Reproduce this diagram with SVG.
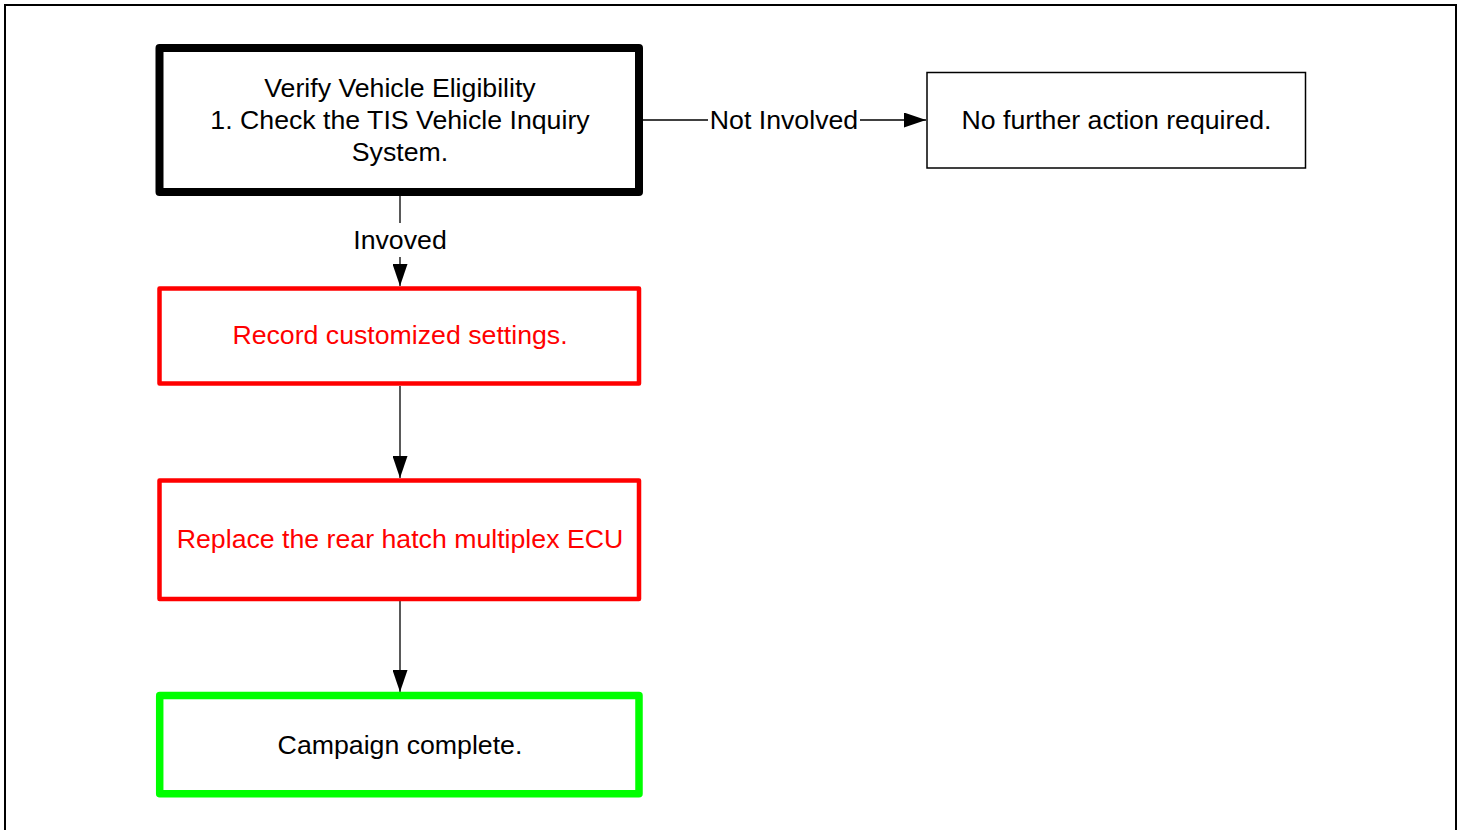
<svg xmlns="http://www.w3.org/2000/svg" width="1463" height="830" viewBox="0 0 1463 830">
<style>
text{font-family:"Liberation Sans",Arial,sans-serif;font-size:26.7px;text-anchor:middle;dominant-baseline:central}
.red{fill:#ff0000}
.blk{fill:#000}
.conn{stroke:#000;stroke-width:1.3;fill:none}
</style>
<defs>
<marker id="ah" viewBox="0 0 22 15" refX="22" refY="7.5" markerWidth="22" markerHeight="15" markerUnits="userSpaceOnUse" orient="auto">
<path d="M0,0 L22,7.5 L0,15 Z" fill="#000"/>
</marker>
</defs>
<rect x="0" y="0" width="1463" height="830" fill="#fff"/>
<rect id="frame" x="5" y="5" width="1451" height="840" fill="none" stroke="#000" stroke-width="2"/>
<g id="connectors">
<path class="conn" d="M642,120 H708"/>
<path class="conn" d="M860,120 H926" marker-end="url(#ah)"/>
<text x="784" y="120" class="blk">Not Involved</text>
<path class="conn" d="M400,196 V223"/>
<path class="conn" d="M400,257 V286" marker-end="url(#ah)"/>
<text x="400" y="240" class="blk">Invoved</text>
<path class="conn" d="M400,386 V478" marker-end="url(#ah)"/>
<path class="conn" d="M400,601 V692" marker-end="url(#ah)"/>
</g>
<g id="verify">
<rect x="159.5" y="48" width="479.5" height="144" fill="#fff" stroke="#000" stroke-width="8" stroke-linejoin="round"/>
<text x="400" y="88" class="blk">Verify Vehicle Eligibility</text>
<text x="400" y="120" class="blk">1. Check the TIS Vehicle Inquiry</text>
<text x="400" y="152" class="blk">System.</text>
</g>
<g id="nofurther">
<rect x="927" y="72.5" width="378.5" height="95.5" fill="#fff" stroke="#000" stroke-width="1.5"/>
<text x="1116.5" y="120" class="blk">No further action required.</text>
</g>
<g id="record">
<rect x="159.5" y="288.5" width="479.5" height="95" fill="#fff" stroke="#ff0000" stroke-width="4.5" stroke-linejoin="round"/>
<text x="400" y="335" class="red">Record customized settings.</text>
</g>
<g id="replace">
<rect x="159.5" y="480.5" width="479.5" height="118.5" fill="#fff" stroke="#ff0000" stroke-width="4.5" stroke-linejoin="round"/>
<text x="400" y="539" class="red">Replace the rear hatch multiplex ECU</text>
</g>
<g id="complete">
<rect x="159.7" y="695.5" width="479.3" height="98.3" fill="#fff" stroke="#00ff00" stroke-width="7.5" stroke-linejoin="round"/>
<text x="400" y="745" class="blk">Campaign complete.</text>
</g>
</svg>
